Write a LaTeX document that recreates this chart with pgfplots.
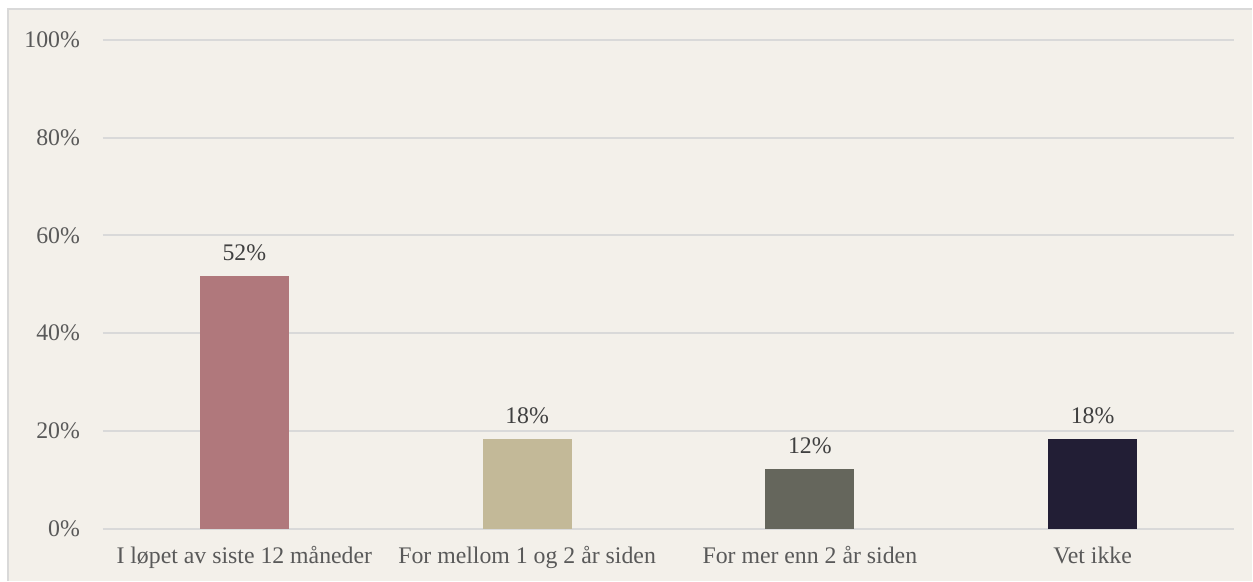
\documentclass[border=0pt]{standalone}
\usepackage{pgfplots}
\pgfplotsset{compat=1.18}
\usepackage{fontspec}
\setmainfont{Liberation Serif}
\definecolor{bg}{HTML}{F3F0EA}
\definecolor{gridc}{HTML}{D9D9D9}
\definecolor{txt}{HTML}{595959}
\definecolor{lab}{HTML}{404040}
\definecolor{c1}{HTML}{B0787C}
\definecolor{c2}{HTML}{C3B998}
\definecolor{c3}{HTML}{65665C}
\definecolor{c4}{HTML}{221E35}
\begin{document}
\begin{tikzpicture}
\fill[white] (-51.5pt,-26pt) rectangle (575pt,264.5pt);
\fill[bg] (-47.5pt,-26pt) rectangle (575pt,260pt);
\draw[gridc, line width=1pt] (-47.5pt,-26pt) -- (-47.5pt,260pt) -- (575pt,260pt);
\begin{axis}[
  at={(0,0)}, anchor=south west,
  scale only axis,
  width=566pt, height=244.5pt,
  xmin=-0.5, xmax=3.5, ymin=0, ymax=100,
  axis line style={draw=none},
  ytick={0,20,40,60,80,100},
  ymajorgrids, xmajorgrids=false, grid style={draw=gridc, line width=1pt},
  major tick length=0pt,
  xtick={0,1,2,3},
  xticklabels={I løpet av siste 12 måneder, For mellom 1 og 2 år siden, For mer enn 2 år siden, Vet ikke},
  yticklabel={\pgfmathprintnumber{\tick}\%},
  /pgf/number format/assume math mode=true,
  tick label style={font=\fontsize{11.9}{13}\selectfont, text=txt},
  yticklabel style={xshift=-8pt},
  xticklabel style={yshift=-5.5pt},
  ybar, bar width=44.5pt, bar shift=0pt,
  nodes near coords={\pgfmathprintnumber[fixed,precision=0]{\pgfplotspointmeta}\%},
  nodes near coords style={font=\fontsize{11.9}{13}\selectfont, text=lab, yshift=4pt},
  clip=false,
]
\addplot[fill=c1, draw=none] coordinates {(0,51.7)};
\addplot[fill=c2, draw=none] coordinates {(1,18.3)};
\addplot[fill=c3, draw=none] coordinates {(2,12.2)};
\addplot[fill=c4, draw=none] coordinates {(3,18.3)};
\end{axis}
\end{tikzpicture}
\end{document}
